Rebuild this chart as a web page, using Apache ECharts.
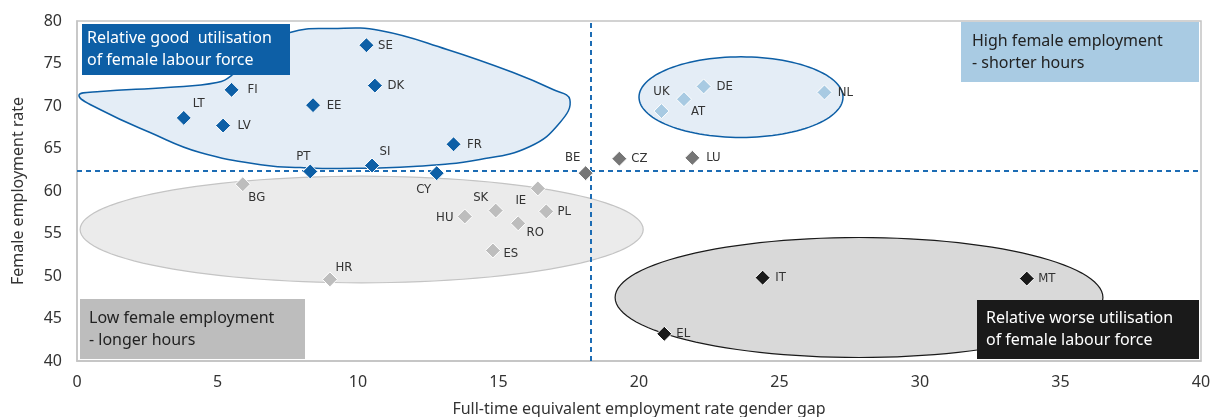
<!DOCTYPE html>
<html>
<head>
<meta charset="utf-8">
<script src="https://cdn.jsdelivr.net/npm/echarts@6/dist/echarts.min.js"></script>
<style>
html,body{margin:0;padding:0;background:#fff;}
#map{width:1211px;height:417px;}
</style>
</head>
<body>
<div id="map"></div>
<script>
// country groups: gap (x) and female employment rate (y)
var blueNames=['SE','DK','FI','EE','LT','LV','FR','SI','PT','CY'];
var blueGap=[10.3,10.6,5.5,8.4,3.8,5.2,13.4,10.5,8.3,12.8];
var blueRate=[77.15,72.4,71.9,70.1,68.6,67.7,65.5,63.0,62.3,62.1];

var lightNames=['UK','AT','DE','NL'];
var lightGap=[20.8,21.6,22.3,26.6];
var lightRate=[69.4,70.8,72.3,71.6];

var midNames=['BE','CZ','LU'];
var midGap=[18.1,19.3,21.9];
var midRate=[62.1,63.8,63.9];

var greyNames=['BG','IE','SK','PL','HU','RO','ES','HR'];
var greyGap=[5.9,16.4,14.9,16.7,13.8,15.7,14.8,9.0];
var greyRate=[60.8,60.3,57.7,57.6,57.0,56.2,53.0,49.6];

var blackNames=['IT','MT','EL'];
var blackGap=[24.4,33.8,20.9];
var blackRate=[49.8,49.7,43.2];

// EU averages (dashed lines)
var avgGap=18.3;
var avgRate=62.4;

// highlighted regions in data units
var goodBlob=[[0.07,71.24],[0.82,71.71],[3.2,72.18],[4.98,72.76],[5.55,73.71],[6.58,76.65],[7.58,78.65],[9.11,79.12],[10.78,78.88],[13.17,76.65],[15.52,73.94],[16.94,71.94],[17.54,70.76],[17.19,68.06],[16.12,65.24],[14.34,63.71],[11.96,62.88],[9.36,62.65],[7.94,62.76],[6.76,63.0],[4.38,64.53],[2.6,66.88],[0.82,69.59]];
var highEllipse=[23.63,71.04,3.63,4.74];
var lowEllipse=[10.13,55.47,10.02,6.27];
var worseEllipse=[27.83,47.47,8.68,7.06];

// label offsets (px) relative to the marker
var labelShift={
    SE:[19,0],DK:[21,0],FI:[21,0],EE:[21,0],LT:[15,-14],LV:[21,0],FR:[21,0],SI:[13,-14],PT:[-7,-15],CY:[-13,16],
    UK:[0,-19],AT:[14,12],DE:[21,0],NL:[21,0],
    BE:[-13,-16],CZ:[20,0],LU:[21,0],
    BG:[14,13],IE:[-17,12],SK:[-15,-13],PL:[18,0],HU:[-20,1],RO:[17,9],ES:[18,3],HR:[14,-12],
    IT:[18,0],MT:[20,0],EL:[19,0]
};

var FONT="'Noto Sans', sans-serif";
var NARROW="'Liberation Sans Narrow','DejaVu Sans Condensed','Roboto', sans-serif";

function points(names,gap,rate){
    var out=[];
    for(var i=0;i<names.length;i++){
        out.push({name:names[i],value:[gap[i],rate[i]],label:{offset:labelShift[names[i]]||[18,0]}});
    }
    return out;
}

function scatter(names,gap,rate,color){
    return {
        type:'scatter',
        symbol:'diamond',
        symbolSize:15,
        z:5,
        itemStyle:{color:color,opacity:1,borderColor:'#fff',borderWidth:1},
        label:{show:true,position:'inside',formatter:'{b}',color:'#333',fontFamily:NARROW,fontSize:13},
        data:points(names,gap,rate)
    };
}

function ellipseShape(e,api){
    var pts=[];
    for(var k=0;k<120;k++){
        var t=k/120*Math.PI*2;
        pts.push(api.coord([e[0]+e[2]*Math.cos(t),e[1]+e[3]*Math.sin(t)]));
    }
    return pts;
}

function region(kind,fill,stroke,width){
    return {
        type:'custom',
        silent:true,
        z:1,
        data:[[0,0]],
        renderItem:function(params,api){
            var pts;
            if(kind=='blob'){
                pts=goodBlob.map(function(p){return api.coord(p);});
            }
            else{
                pts=ellipseShape(kind,api);
            }
            return {
                type:'polygon',
                shape:{points:pts,smooth:kind=='blob'?0.45:0},
                style:{fill:fill,stroke:stroke,lineWidth:width}
            };
        }
    };
}

function box(x,y,w,h,pad,bg,color,text){
    return {
        type:'group',
        left:x,top:y,
        children:[
            {type:'rect',z:100,shape:{x:0,y:0,width:w,height:h},style:{fill:bg}},
            {type:'text',z:101,x:pad,y:h/2,style:{text:text,fill:color,font:'16px '+FONT,lineHeight:22,verticalAlign:'middle'}}
        ]
    };
}

var myChart=echarts.init(document.getElementById('map'));

var blueSeries=scatter(blueNames,blueGap,blueRate,'#0d5fa6');
blueSeries.markLine={
    silent:true,
    symbol:'none',
    label:{show:false},
    lineStyle:{color:'#1c6cb4',type:[5,4],width:2},
    data:[{xAxis:avgGap},{yAxis:avgRate}]
};

var option={
    animation:false,
    grid:{left:77,right:10,top:21,bottom:56,outerBoundsMode:'none',show:true,borderColor:'#c4c4c4',borderWidth:1.5},
    xAxis:{
        type:'value',min:0,max:40,interval:5,
        name:'Full-time equivalent employment rate gender gap',
        nameLocation:'middle',nameGap:40,
        nameTextStyle:{color:'#333',fontSize:16,fontFamily:FONT},
        axisLine:{lineStyle:{color:'#c4c4c4',width:1.5}},
        axisTick:{show:false},
        splitLine:{show:false},
        axisLabel:{color:'#333',fontSize:16,fontFamily:FONT,margin:13}
    },
    yAxis:{
        type:'value',min:40,max:80,interval:5,
        name:'Female employment rate',
        nameLocation:'middle',nameGap:51,
        nameTextStyle:{color:'#333',fontSize:16,fontFamily:FONT},
        axisLine:{show:true,lineStyle:{color:'#c4c4c4',width:1.5}},
        axisTick:{show:false},
        splitLine:{show:false},
        axisLabel:{color:'#333',fontSize:16,fontFamily:FONT,margin:15}
    },
    series:[
        region('blob','#e4edf6','#0d5fa6',1.5),
        region(highEllipse,'#e4edf6','#0d5fa6',1.5),
        region(lowEllipse,'#ebebeb','#c4c4c4',1.2),
        region(worseEllipse,'#d9d9d9','#1a1a1a',1.2),
        blueSeries,
        scatter(lightNames,lightGap,lightRate,'#a8cae2'),
        scatter(midNames,midGap,midRate,'#767676'),
        scatter(greyNames,greyGap,greyRate,'#bdbdbd'),
        scatter(blackNames,blackGap,blackRate,'#1a1a1a')
    ],
    graphic:[
        box(82,24,208,51,5,'#0d5fa6','#fff','Relative good  utilisation\nof female labour force'),
        box(961,22,238,60,11,'#a9cbe3','#222','High female employment\n- shorter hours'),
        box(80,299,225,60,9,'#bdbdbd','#222','Low female employment\n- longer hours'),
        box(977,300,222,59,9,'#1a1a1a','#fff','Relative worse utilisation\nof female labour force')
    ]
};
myChart.setOption(option);
</script>
</body>
</html>
